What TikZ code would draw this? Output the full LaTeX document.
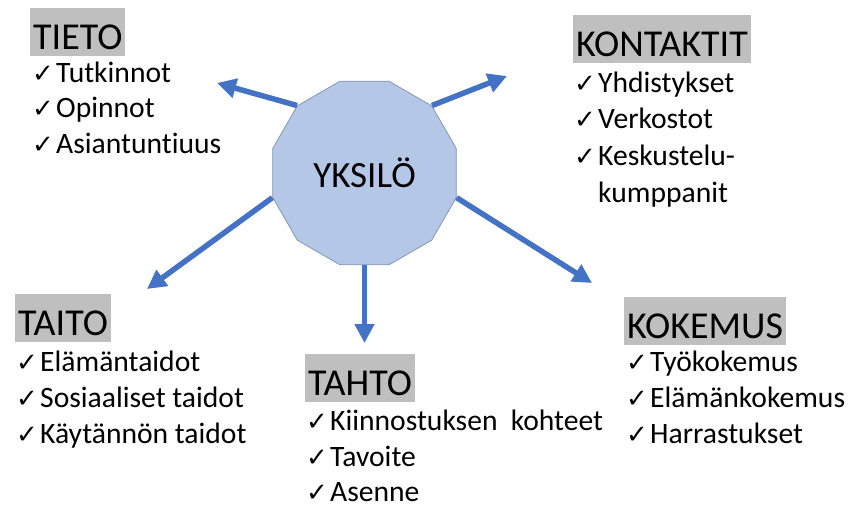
\documentclass[tikz,border=0pt]{standalone}
\usepackage{fontspec}
\setmainfont{Carlito}[Ligatures=NoCommon]
\newfontfamily\ckfont{DejaVu Sans}
\usetikzlibrary{shapes.geometric,arrows.meta}
\definecolor{arrowblue}{HTML}{4472C4}
\definecolor{polyfill}{HTML}{B4C7E7}
\definecolor{polyline}{HTML}{8497B0}
\definecolor{hdrgray}{HTML}{BFBFBF}
\newcommand{\ck}{\makebox[24pt][l]{\ckfont\fontsize{26pt}{26pt}\selectfont ✓}}
\tikzset{
  hdr/.style={fill=hdrgray, font=\fontsize{38pt}{44pt}\selectfont, anchor=base west,
    inner xsep=3pt, inner ysep=0pt, text height=41pt, text depth=7pt},
  item/.style={font=\fontsize{29.6pt}{36pt}\selectfont, anchor=base west, inner sep=0pt},
  arr/.style={arrowblue, line width=5.5pt, -{Triangle[width=19pt,length=19pt]}},
  hub/.style={regular polygon, regular polygon sides=12, minimum size=190pt, inner sep=0pt,
    fill=polyfill, draw=polyline, line width=0.8pt, font=\fontsize{37pt}{44pt}\selectfont}
}
\begin{document}
\begin{tikzpicture}[x=1pt,y=-1pt]
\useasboundingbox (0,0) rectangle (852,507);
% hub
\node[hub] (yk) at (364.5,173) {YKSILÖ};
% arrow tips
\coordinate (tTieto) at (217,83);
\coordinate (tKont) at (507,76);
\coordinate (tTaito) at (147,289);
\coordinate (tKok) at (592,283);
\coordinate (tTahto) at (364.5,343);
\draw[arr] (yk.135) -- (tTieto);
\draw[arr] (yk.45) -- (tKont);
\draw[arr] (yk.195) -- (tTaito);
\draw[arr] (yk.345) -- (tKok);
\draw[arr] (yk.270) -- (tTahto);
% TIETO
\node[hdr] (hTieto) at (30,49) {TIETO};
\node[item] (tieto1) at (32,82) {\ck Tutkinnot};
\node[item] (tieto2) at (32,117) {\ck Opinnot};
\node[item] (tieto3) at (32,153) {\ck Asiantuntiuus};
% KONTAKTIT
\node[hdr] (hKont) at (573,56) {KONTAKTIT};
\node[item] (kont1) at (574,92) {\ck Yhdistykset};
\node[item] (kont2) at (574,128) {\ck Verkostot};
\node[item] (kont3) at (574,165) {\ck Keskustelu-};
\node[item] (kont4) at (598,202) {kumppanit};
% TAITO
\node[hdr] (hTaito) at (15,335) {TAITO};
\node[item] (taito1) at (16,371) {\ck Elämäntaidot};
\node[item] (taito2) at (16,407) {\ck Sosiaaliset taidot};
\node[item] (taito3) at (16,443) {\ck Käytännön taidot};
% TAHTO
\node[hdr] (hTahto) at (305,395) {TAHTO};
\node[item] (tahto1) at (306,430) {\ck Kiinnostuksen\hspace{0.45em}kohteet};
\node[item] (tahto2) at (306,466) {\ck Tavoite};
\node[item] (tahto3) at (306,501) {\ck Asenne};
% KOKEMUS
\node[hdr] (hKok) at (624,338) {KOKEMUS};
\node[item] (kok1) at (626,371) {\ck Työkokemus};
\node[item] (kok2) at (626,407) {\ck Elämänkokemus};
\node[item] (kok3) at (626,443) {\ck Harrastukset};
\end{tikzpicture}
\end{document}
